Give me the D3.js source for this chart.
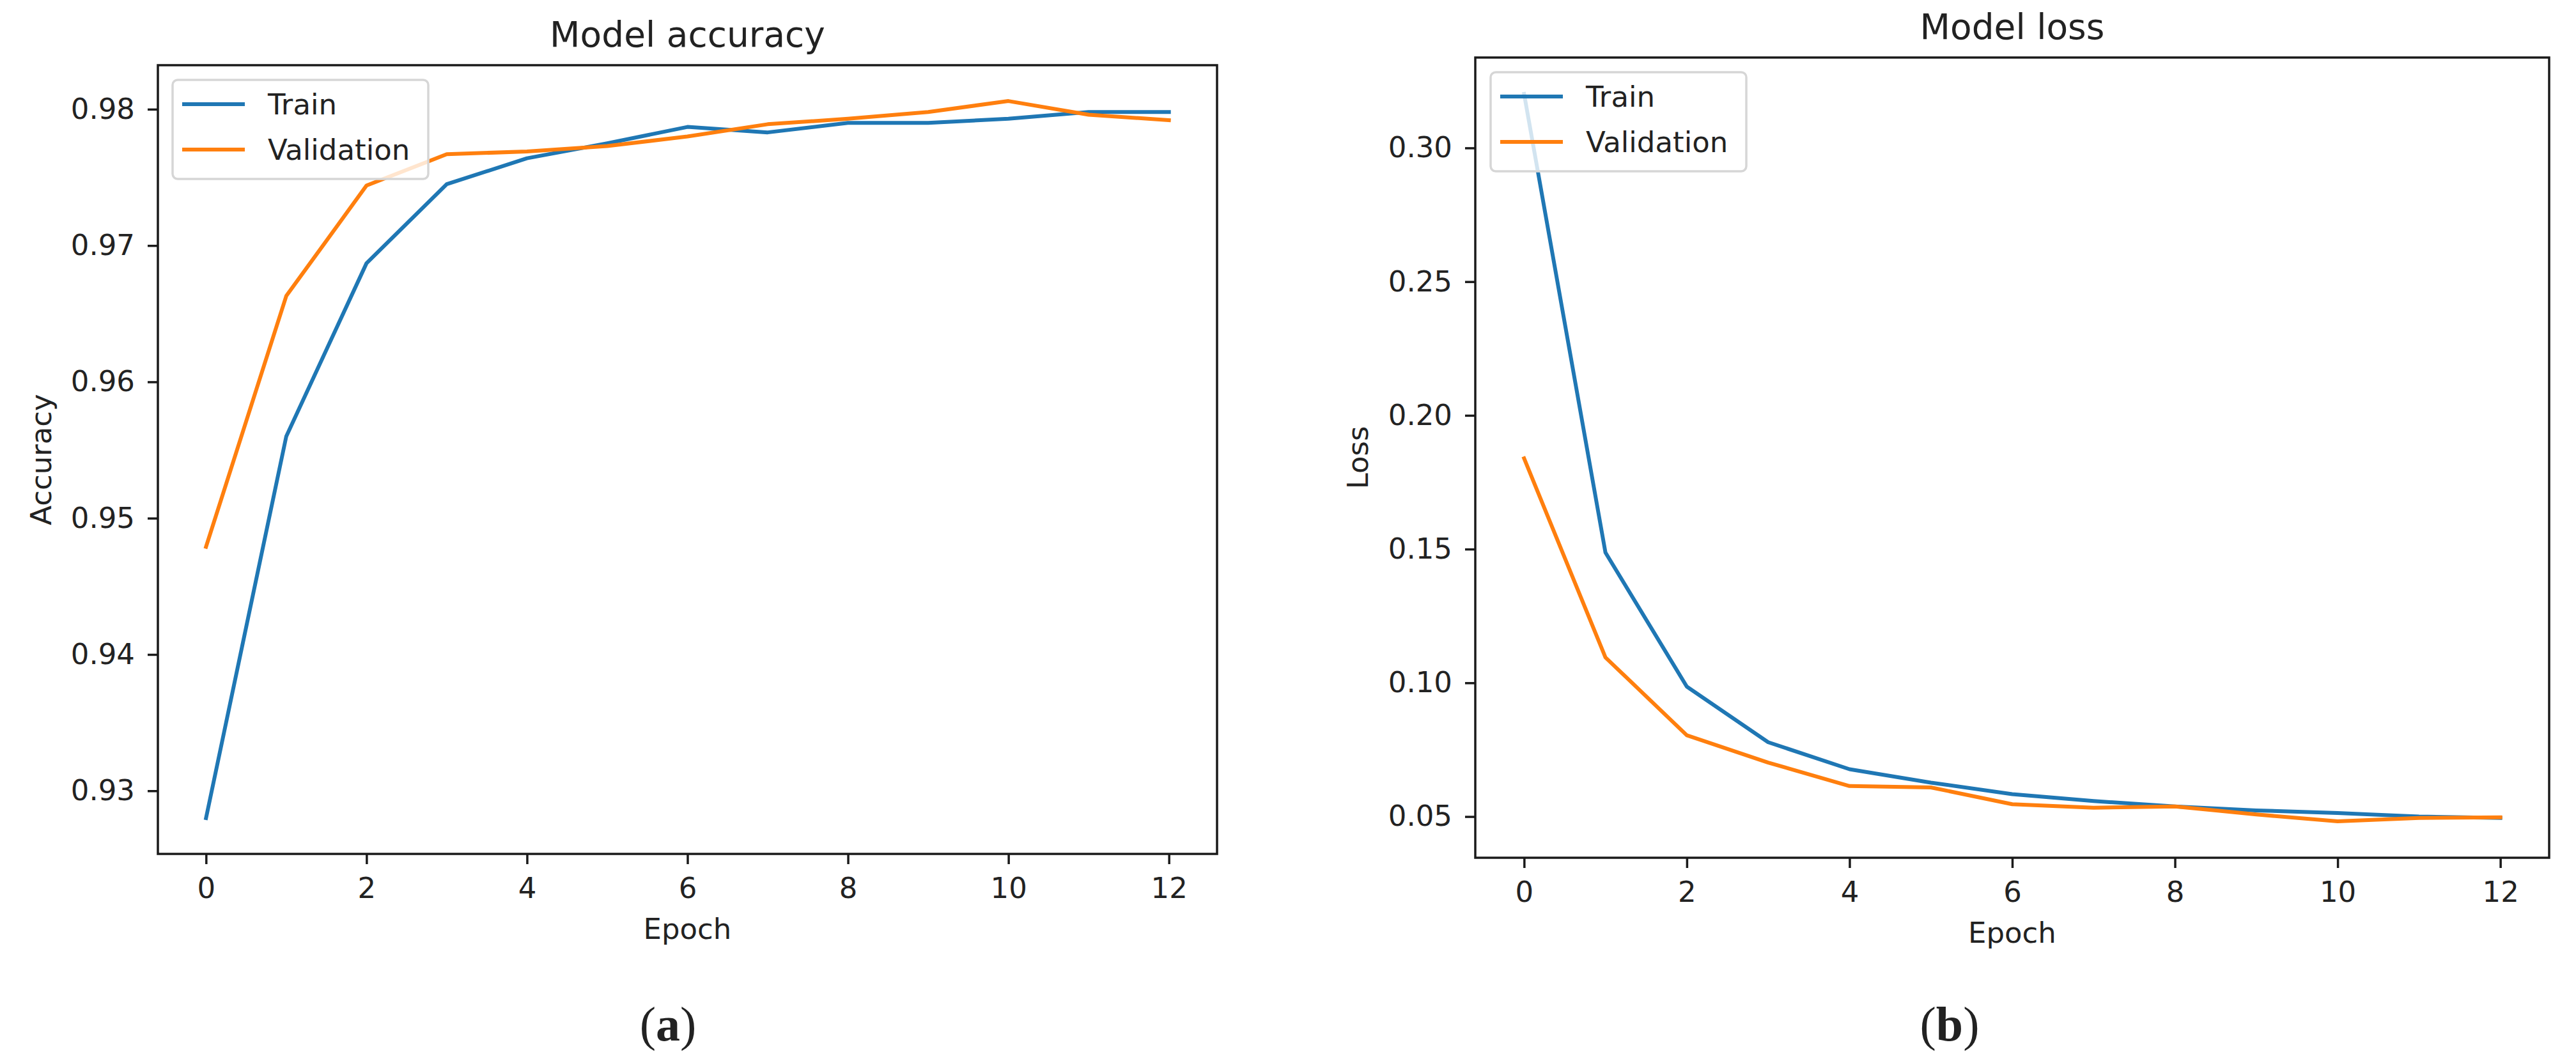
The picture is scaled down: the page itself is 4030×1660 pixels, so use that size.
<!DOCTYPE html>
<html>
<head>
<meta charset="utf-8">
<script src="https://cdn.jsdelivr.net/npm/d3@7"></script>
<style>
  body { margin: 0; background: #fff; }
  svg text { font-family: "DejaVu Sans", sans-serif; fill: #222; }
</style>
</head>
<body>
<div id="chart"></div>
<script>
// data
var epochs = [0, 1, 2, 3, 4, 5, 6, 7, 8, 9, 10, 11, 12];
var trainAcc = [0.9280, 0.9560, 0.9687, 0.9745, 0.9764, 0.9775, 0.9787, 0.9783, 0.9790, 0.9790, 0.9793, 0.9798, 0.9798];
var valAcc = [0.9479, 0.9663, 0.9744, 0.9767, 0.9769, 0.9773, 0.9780, 0.9789, 0.9793, 0.9798, 0.9806, 0.9796, 0.9792];
var trainLoss = [0.3202, 0.1487, 0.0986, 0.0778, 0.0677, 0.0627, 0.0584, 0.0558, 0.0538, 0.0523, 0.0513, 0.0500, 0.0495];
var valLoss = [0.1839, 0.1095, 0.0804, 0.0702, 0.0614, 0.0609, 0.0546, 0.0533, 0.0538, 0.0508, 0.0482, 0.0495, 0.0497];
var xTicks = [0, 2, 4, 6, 8, 10, 12];
var accTicks = [0.93, 0.94, 0.95, 0.96, 0.97, 0.98];
var lossTicks = [0.05, 0.10, 0.15, 0.20, 0.25, 0.30];
var seriesNames = ["Train", "Validation"];
var colors = ["#1f77b4", "#ff7f0e"];

var W = 4030, H = 1660;

var svg = d3.select("#chart").append("svg")
    .attr("width", W)
    .attr("height", H);

svg.append("rect").attr("width", W).attr("height", H).attr("fill", "#fff");

// 画一个面板
function drawPanel(p) {
    var g = svg.append("g");

    var x = d3.scaleLinear().domain([-0.6, 12.6]).range([p.left, p.right]);

    // matplotlib style 5% margins around the data
    var all = p.series[0].concat(p.series[1]);
    var lo = d3.min(all), hi = d3.max(all), pad = (hi - lo) * 0.05;
    var y = d3.scaleLinear().domain([lo - pad, hi + pad]).range([p.bottom, p.top]);

    var xAxis = g.append("g")
        .attr("transform", "translate(0," + p.bottom + ")")
        .call(d3.axisBottom(x).tickValues(xTicks).tickSize(16).tickPadding(21)
            .tickFormat(d3.format("d")));
    var yAxis = g.append("g")
        .attr("transform", "translate(" + p.left + ",0)")
        .call(d3.axisLeft(y).tickValues(p.yTicks).tickSize(16).tickPadding(20)
            .tickFormat(d3.format(".2f")));

    [xAxis, yAxis].forEach(function (a) {
        a.select(".domain").remove();
        a.selectAll(".tick line").attr("stroke", "#1a1a1a").attr("stroke-width", 3.5);
        a.selectAll(".tick text").style("font-size", "45px").attr("fill", "#222");
    });

    var line = d3.line()
        .x(function (d, i) { return x(epochs[i]); })
        .y(function (d) { return y(d); });

    p.series.forEach(function (s, k) {
        g.append("path")
            .datum(s)
            .attr("d", line)
            .attr("fill", "none")
            .attr("stroke", colors[k])
            .attr("stroke-width", 6)
            .attr("stroke-linejoin", "round")
            .attr("stroke-linecap", "square");
    });

    // axes frame
    g.append("rect")
        .attr("x", p.left).attr("y", p.top)
        .attr("width", p.right - p.left).attr("height", p.bottom - p.top)
        .attr("fill", "none").attr("stroke", "#1a1a1a").attr("stroke-width", 3.5);

    // legend
    var lg = g.append("g").attr("transform", "translate(" + p.legX + "," + p.legY + ")");
    lg.append("rect")
        .attr("width", 400).attr("height", 155)
        .attr("rx", 8)
        .attr("fill", "#fff").attr("fill-opacity", 0.8)
        .attr("stroke", "#d6d6d6").attr("stroke-width", 3.5);
    seriesNames.forEach(function (name, k) {
        var ry = 38 + k * 71;
        lg.append("line")
            .attr("x1", 15).attr("x2", 113)
            .attr("y1", ry).attr("y2", ry)
            .attr("stroke", colors[k]).attr("stroke-width", 6);
        lg.append("text")
            .attr("x", 149).attr("y", ry + 16)
            .style("font-size", "45px")
            .text(name);
    });

    var cx = (p.left + p.right) / 2;
    g.append("text")
        .attr("x", cx).attr("y", p.top - 29)
        .attr("text-anchor", "middle")
        .style("font-size", "55px")
        .text(p.title);
    g.append("text")
        .attr("x", cx).attr("y", p.bottom + 133)
        .attr("text-anchor", "middle")
        .style("font-size", "45px")
        .text("Epoch");
    g.append("text")
        .attr("transform", "translate(" + p.ylabX + "," + ((p.top + p.bottom) / 2) + ")rotate(-90)")
        .attr("text-anchor", "middle")
        .style("font-size", "45px")
        .text(p.ylabel);

    // caption (a)/(b)
    var cap = g.append("text")
        .attr("x", p.capX).attr("y", 1628)
        .attr("text-anchor", "middle")
        .style("font-family", "'Liberation Serif', serif")
        .style("font-size", "76px")
        .attr("fill", "#000");
    cap.append("tspan").text("(");
    cap.append("tspan").style("font-weight", "bold").text(p.letter);
    cap.append("tspan").text(")");
}

drawPanel({
    left: 247, right: 1904, top: 102, bottom: 1336,
    series: [trainAcc, valAcc], yTicks: accTicks,
    title: "Model accuracy", ylabel: "Accuracy", ylabX: 80,
    legX: 270, legY: 125, capX: 1045, letter: "a"
});

drawPanel({
    left: 2308, right: 3988, top: 90, bottom: 1342,
    series: [trainLoss, valLoss], yTicks: lossTicks,
    title: "Model loss", ylabel: "Loss", ylabX: 2140,
    legX: 2332, legY: 113, capX: 3050, letter: "b"
});
</script>
</body>
</html>
